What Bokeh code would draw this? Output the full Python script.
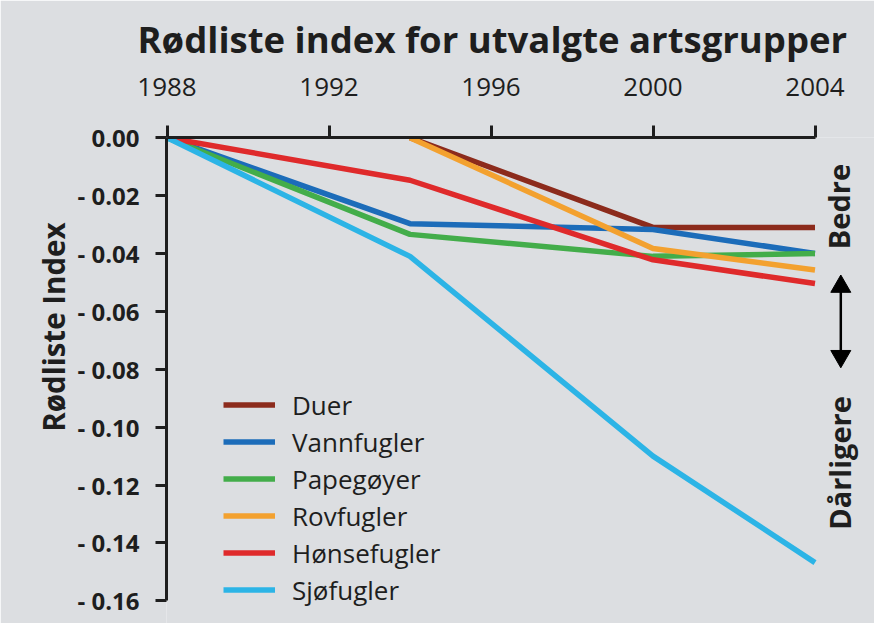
import math
from bokeh.plotting import figure
from bokeh.models import (Range1d, LinearAxis, FixedTicker, Legend, LegendItem, Title)
from bokeh.core.properties import value
from bokeh.embed import file_html
from bokeh.resources import INLINE

# ---------------- data ----------------
title_text = "Rødliste index for utvalgte artsgrupper"
y_axis_title = "Rødliste Index"
better_text = "Bedre"
worse_text = "Dårligere"
years_full = [1988, 1994, 2000, 2004]
years_late = [1994, 2000, 2004]
x_ticks = [1988, 1992, 1996, 2000, 2004]
y_ticks = [0.0, -0.02, -0.04, -0.06, -0.08, -0.10, -0.12, -0.14, -0.16]
y_tick_labels = ["0.00", "- 0.02", "- 0.04", "- 0.06", "- 0.08", "- 0.10", "- 0.12", "- 0.14", "- 0.16"]

duer = [0.0, -0.031, -0.031]              # from 1994
vannfugler = [0.0, -0.0297, -0.0317, -0.040]
papegoyer = [0.0, -0.0334, -0.0410, -0.0400]
rovfugler = [0.0, -0.0383, -0.0457]        # from 1994
honsefugler = [0.0, -0.0147, -0.0422, -0.0504]
sjofugler = [0.0, -0.0410, -0.1100, -0.1468]

series_names = ["Duer", "Vannfugler", "Papegøyer", "Rovfugler", "Hønsefugler", "Sjøfugler"]
series_colors = ["#8c2b1c", "#1c6cb9", "#43ad4a", "#f3a12f", "#df2a2b", "#2cb4e6"]

FONT = "Open Sans"
BG = "#dcdee1"
INK = "#1e1e1e"

# ---------------- geometry (pixels in the figure) ----------------
W, H = 874, 623
LEFT, TOP = 166, 137
PX_1988, PX_2004 = 166.5, 814.5
PY_0, PY_016 = 137.2, 600.3
ppx = (PX_2004 - PX_1988) / 16.0
ppy = (PY_016 - PY_0) / 0.16
x_start = 1988 - (PX_1988 - LEFT) / ppx
x_end = x_start + (W - LEFT) / ppx
y_end = 0.0 + (PY_0 - TOP) / ppy
y_start = y_end - (H - TOP) / ppy

def dx(px):
    return 1988 + (px - PX_1988) / ppx

def dy(py):
    return -(py - PY_0) / ppy

p = figure(width=W, height=H, output_backend="svg", toolbar_location=None,
           x_range=Range1d(x_start, x_end), y_range=Range1d(y_start, y_end),
           x_axis_location=None, y_axis_location=None,
           min_border_left=LEFT, min_border_right=0,
           min_border_top=TOP, min_border_bottom=0)
p.background_fill_color = BG
p.border_fill_color = BG
p.outline_line_color = None
p.xgrid.visible = False
p.ygrid.visible = False

# ---------------- axes ----------------
xa = LinearAxis(ticker=FixedTicker(ticks=x_ticks), bounds=(1988, 2004))
xa.axis_line_width = 3
xa.axis_line_color = INK
xa.major_tick_line_width = 3
xa.major_tick_line_color = INK
xa.major_tick_out = 12
xa.major_tick_in = 0
xa.minor_tick_out = 0
xa.minor_tick_in = 0
xa.major_label_standoff = 30
xa.major_label_text_font = FONT
xa.major_label_text_font_size = "26px"
xa.major_label_text_color = INK
p.add_layout(xa, "above")

ya = LinearAxis(ticker=FixedTicker(ticks=y_ticks), bounds=(-0.16, 0.0))
ya.major_label_overrides = {t: s for t, s in zip(y_ticks, y_tick_labels)}
ya.axis_line_width = 3
ya.axis_line_color = INK
ya.major_tick_line_width = 3
ya.major_tick_line_color = INK
ya.major_tick_out = 11
ya.major_tick_in = 0
ya.minor_tick_out = 0
ya.minor_tick_in = 0
ya.major_label_standoff = 16
ya.major_label_text_font = FONT
ya.major_label_text_font_style = "bold"
ya.major_label_text_font_size = "24px"
ya.major_label_text_color = INK
p.add_layout(ya, "left")

# y-axis title as a rotated single label of an outer axis
y_title_pos = dy(326.6)
yt = LinearAxis(ticker=FixedTicker(ticks=[y_title_pos]))
yt.major_label_overrides = {y_title_pos: y_axis_title}
yt.major_label_orientation = "vertical"
yt.axis_line_color = None
yt.major_tick_line_color = None
yt.minor_tick_line_color = None
yt.major_tick_out = 0
yt.major_tick_in = 0
yt.major_label_standoff = 0
yt.major_label_text_font = FONT
yt.major_label_text_font_style = "bold"
yt.major_label_text_font_size = "29.5px"
yt.major_label_text_color = INK
p.add_layout(yt, "left")

# title
title = Title(text=title_text, align="left", offset=137 - LEFT,
              standoff=21, text_font=FONT, text_font_style="bold",
              text_font_size="36.5px", text_color=INK)
p.add_layout(title, "above")

# ---------------- lines ----------------
all_series = [(years_late, duer), (years_full, vannfugler), (years_full, papegoyer),
              (years_late, rovfugler), (years_full, honsefugler), (years_full, sjofugler)]
renderers = []
for (xs, ys), name, col in zip(all_series, series_names, series_colors):
    r = p.line(xs, ys, line_color=col, line_width=5.5, line_join="round", line_cap="butt")
    renderers.append(r)

legend = Legend(items=[LegendItem(label=n, renderers=[r]) for n, r in zip(series_names, renderers)],
                location=(57, 15))
legend.glyph_width = 52
legend.glyph_height = 37
legend.label_height = 37
legend.spacing = 0
legend.padding = 0
legend.margin = 0
legend.label_standoff = 17
legend.label_text_font = FONT
legend.label_text_font_size = "26px"
legend.label_text_color = INK
legend.label_text_baseline = "middle"
legend.background_fill_alpha = 0
legend.border_line_color = None
p.add_layout(legend, "center")

# ---------------- right-hand annotation ----------------
ax = dx(840.3)
p.text(x=[dx(838.3), dx(839.3)], y=[dy(206), dy(462.5)], text=[better_text, worse_text],
       angle=math.pi / 2, text_align="center", text_baseline="middle",
       text_font=value(FONT), text_font_style="bold", text_font_size="29px", text_color=INK)
tip_top, tip_bot = 274.5, 367.3
head = 20
off = head * math.sqrt(3) / 2 / 3 * 2   # centre-to-tip distance of the triangle marker
p.segment(x0=[ax], y0=[dy(tip_top + 8)], x1=[ax], y1=[dy(tip_bot - 8)],
          line_color="black", line_width=2.5)
p.scatter(x=[ax], y=[dy(tip_top + off)], marker="triangle", size=head,
          fill_color="black", line_color="black")
p.scatter(x=[ax], y=[dy(tip_bot - off)], marker="inverted_triangle", size=head,
          fill_color="black", line_color="black")

open("out.html", "w").write(file_html(p, INLINE))
